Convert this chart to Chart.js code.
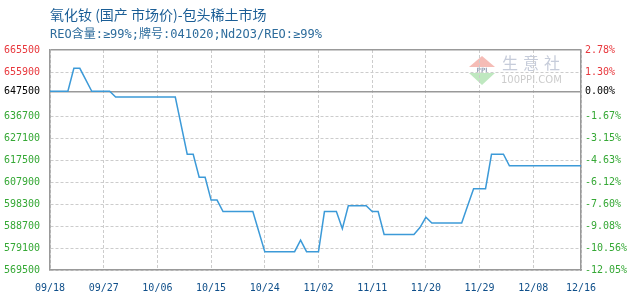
<!DOCTYPE html>
<html>
<head>
<meta charset="utf-8">
<script src="https://cdn.jsdelivr.net/npm/chart.js@4"></script>
<style>html,body{margin:0;padding:0;background:#fff}</style>
</head>
<body>
<canvas id="c" width="630" height="300"></canvas>
<script>
// ---- data (day = days after 09/18) ----
const titleText = "氧化钕 (国产 市场价)-包头稀土市场";
const subText = "REO含量:≥99%;牌号:041020;Nd2O3/REO:≥99%";

const pointDays = [0, 3, 4, 5, 7, 10, 11, 21, 23, 24,
  25, 26, 27, 28, 29, 34, 36, 41, 42, 43,
  45, 46, 48, 49, 50, 53, 54, 55, 56, 61,
  62, 63, 64, 69, 70, 71, 73, 74, 76, 77, 89];
const pointValues = [647500, 647500, 657500, 657500, 647500, 647500, 645000, 645000, 620000, 620000,
  610000, 610000, 600000, 600000, 595000, 595000, 577500, 577500, 582500, 577500,
  577500, 595000, 595000, 587500, 597500, 597500, 595000, 595000, 585000, 585000,
  588000, 592500, 590000, 590000, 597500, 605000, 605000, 620000, 620000, 615000, 615000];

const xTickDays = [0, 9, 18, 27, 36, 45, 54, 63, 72, 81, 89];
const xTickLabels = ["09/18", "09/27", "10/06", "10/15", "10/24", "11/02", "11/11", "11/20", "11/29", "12/08", "12/16"];

const yTicks = [665500, 655900, 647500, 636700, 627100, 617500, 607900, 598300, 588700, 579100, 569500];
const baseValue = 647500;

// ---- helpers ----
const tickFont = { family: "'DejaVu Sans Mono', monospace", size: 10 };
function tickColor(v) {
  if (v > baseValue) return "#e8383d";
  if (v < baseValue) return "#35a835";
  return "#000";
}
function pct(v) { return ((v / baseValue - 1) * 100).toFixed(2) + "%"; }

const headerPlugin = {
  id: "header",
  beforeDraw(chart) {
    const ctx = chart.ctx;
    ctx.save();
    // watermark logo
    ctx.fillStyle = "#f5bcb6";
    ctx.beginPath(); ctx.moveTo(482, 56); ctx.lineTo(495, 67); ctx.lineTo(469, 67); ctx.closePath(); ctx.fill();
    ctx.fillStyle = "#bfe8c0";
    ctx.beginPath(); ctx.moveTo(469, 73); ctx.lineTo(495, 73); ctx.lineTo(482, 85); ctx.closePath(); ctx.fill();
    ctx.fillStyle = "#9aa4b8";
    ctx.font = "bold 6px 'DejaVu Sans'";
    ctx.textBaseline = "middle"; ctx.textAlign = "center";
    ctx.fillText("PPI", 482, 70);
    ctx.fillStyle = "#c6ccda";
    ctx.font = "16px 'Noto Sans CJK SC'";
    ["生", "意", "社"].forEach((ch, i) => ctx.fillText(ch, 510 + i * 21, 63));
    ctx.fillStyle = "#cccccc";
    ctx.font = "10px 'DejaVu Sans'";
    ctx.textAlign = "left";
    ctx.fillText("100PPI.COM", 501, 80);
    // title
    ctx.fillStyle = "#1b5e96";
    ctx.font = "14px 'Noto Sans CJK SC'";
    ctx.fillText(titleText, 50, 15);
    ctx.fillStyle = "#2d6c9c";
    ctx.font = "12px 'DejaVu Sans Mono', 'Noto Sans CJK SC'";
    ctx.fillText(subText, 50, 35);
    ctx.restore();
  }
};

const solidLine = v => v === baseValue || v === yTicks[0];

new Chart(document.getElementById("c").getContext("2d"), {
  type: "line",
  data: {
    datasets: [{
      data: pointDays.map((d, i) => ({ x: d, y: pointValues[i] })),
      borderColor: "#3c9ad8",
      borderWidth: 1.5,
      pointRadius: 0,
      tension: 0,
      fill: false
    }]
  },
  options: {
    responsive: false,
    animation: false,
    devicePixelRatio: 1,
    layout: { padding: { top: 50 } },
    plugins: { legend: { display: false }, tooltip: { enabled: false } },
    scales: {
      x: {
        type: "linear", min: 0, max: 89,
        afterBuildTicks: s => { s.ticks = xTickDays.map(v => ({ value: v })); },
        afterFit: s => { s.height = 30; },
        ticks: {
          autoSkip: false, maxRotation: 0, padding: 12,
          color: "#0f4f8a", font: tickFont,
          callback: v => xTickLabels[xTickDays.indexOf(v)]
        },
        grid: { color: "#cccccc", drawTicks: false },
        border: { color: "#999", width: 1.5, dash: [3, 2] }
      },
      y: {
        position: "left", min: 569500, max: 665500,
        afterBuildTicks: s => { s.ticks = yTicks.map(v => ({ value: v })); },
        afterFit: s => { s.width = 50; },
        ticks: {
          padding: 10, font: tickFont,
          color: c => tickColor(c.tick.value),
          callback: v => String(v)
        },
        grid: {
          drawTicks: false,
          color: c => solidLine(c.tick.value) ? "#999" : "#cccccc",
          lineWidth: c => solidLine(c.tick.value) ? 1.5 : 1
        },
        border: {
          color: "#999", width: 1.5,
          dash: c => solidLine(c.tick.value) ? [] : [3, 2]
        }
      },
      y2: {
        position: "right", min: 569500, max: 665500,
        afterBuildTicks: s => { s.ticks = yTicks.map(v => ({ value: v })); },
        afterFit: s => { s.width = 49; },
        ticks: {
          padding: 4, font: tickFont,
          color: c => tickColor(c.tick.value),
          callback: v => pct(v)
        },
        grid: { display: false, drawTicks: false },
        border: { color: "#999", width: 1.5 }
      }
    }
  },
  plugins: [headerPlugin]
});
</script>
</body>
</html>
